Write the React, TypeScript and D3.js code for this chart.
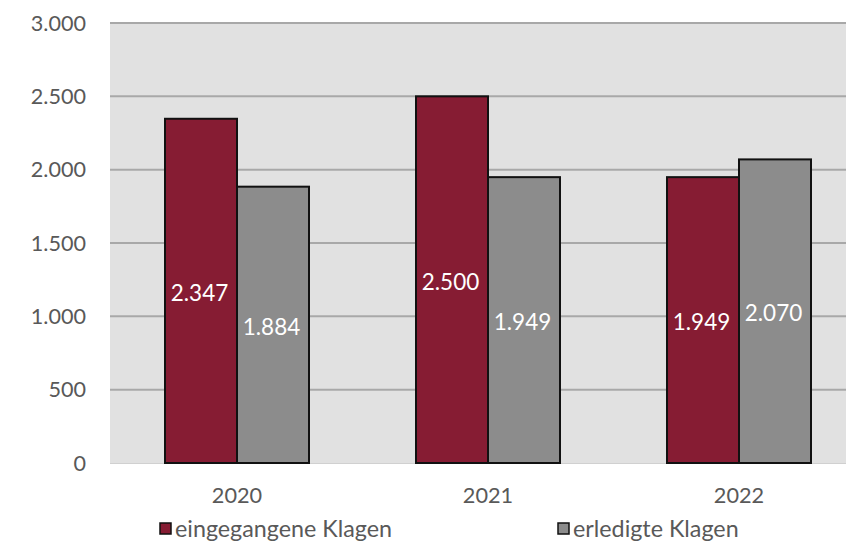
import React from "react";
import * as d3 from "d3";

const categories = ["2020", "2021", "2022"];
const seriesNames = ["eingegangene Klagen", "erledigte Klagen"];
const eingegangen = [2347, 2500, 1949];
const erledigt = [1884, 1949, 2070];
const yTicks = [0, 500, 1000, 1500, 2000, 2500, 3000];
const colors = ["#861c33", "#8c8c8c"];

const W = 846, H = 547;
const fmt = (v: number) => d3.format(",")(v).replace(/,/g, ".");

export default function App() {
  const x0 = d3.scaleBand().domain(categories).range([111.5, 864.5]).paddingInner(0).paddingOuter(0);
  const x1 = d3.scaleBand().domain(seriesNames).range([0, 144]);
  const y = d3.scaleLinear().domain([0, 3000]).range([463, 23]);
  const series = [eingegangen, erledigt];
  const font = "Lato, 'Open Sans', sans-serif";
  return (
    <div style={{ position: "fixed", left: 0, top: 0 }}>
      <svg width={W} height={H} style={{ display: "block", background: "#fff" }}>
        <rect x={110} y={y(3000)} width={W - 110} height={y(0) - y(3000)} fill="#e1e1e1" />
        {yTicks.map((t) => (
          <g key={t}>
            {t > 0 && <line x1={110} x2={W} y1={y(t)} y2={y(t)} stroke="#a8a8a8" strokeWidth={2} />}
            <text x={86} y={y(t)} dy="0.35em" textAnchor="end" fontFamily={font} fontSize={21.6} fill="#595959">{fmt(t)}</text>
          </g>
        ))}
        <line x1={110} x2={W} y1={y(0) + 0.5} y2={y(0) + 0.5} stroke="#d0d0d0" strokeWidth={1} />
        {categories.map((c, i) => {
          const gx = (x0(c) as number) + x0.bandwidth() / 2 - 72;
          return (
            <g key={c}>
              {series.map((s, j) => {
                const bx = gx + (x1(seriesNames[j]) as number);
                const top = y(s[i]);
                return (
                  <g key={j}>
                    <rect x={bx} y={top} width={x1.bandwidth()} height={y(0) - top} fill={colors[j]} stroke="#111" strokeWidth={2} />
                    <text x={bx + x1.bandwidth() / 2 - 1.5} y={(top + y(0)) / 2 + 2} dy="0.35em" textAnchor="middle" fontFamily={font} fontSize={22.5} fill="#fff">{fmt(s[i])}</text>
                  </g>
                );
              })}
              <text x={(x0(c) as number) + x0.bandwidth() / 2} y={495} dy="0.35em" textAnchor="middle" fontFamily={font} fontSize={21.7} fill="#595959">{c}</text>
            </g>
          );
        })}
        {seriesNames.map((n, j) => {
          const lx = j === 0 ? 160 : 558;
          return (
            <g key={n}>
              <rect x={lx} y={523} width={11} height={11} fill={colors[j]} stroke="#111" strokeWidth={1.5} />
              <text x={lx + 15} y={529} dy="0.35em" fontFamily={font} fontSize={23.3} fill="#595959">{n}</text>
            </g>
          );
        })}
      </svg>
    </div>
  );
}
